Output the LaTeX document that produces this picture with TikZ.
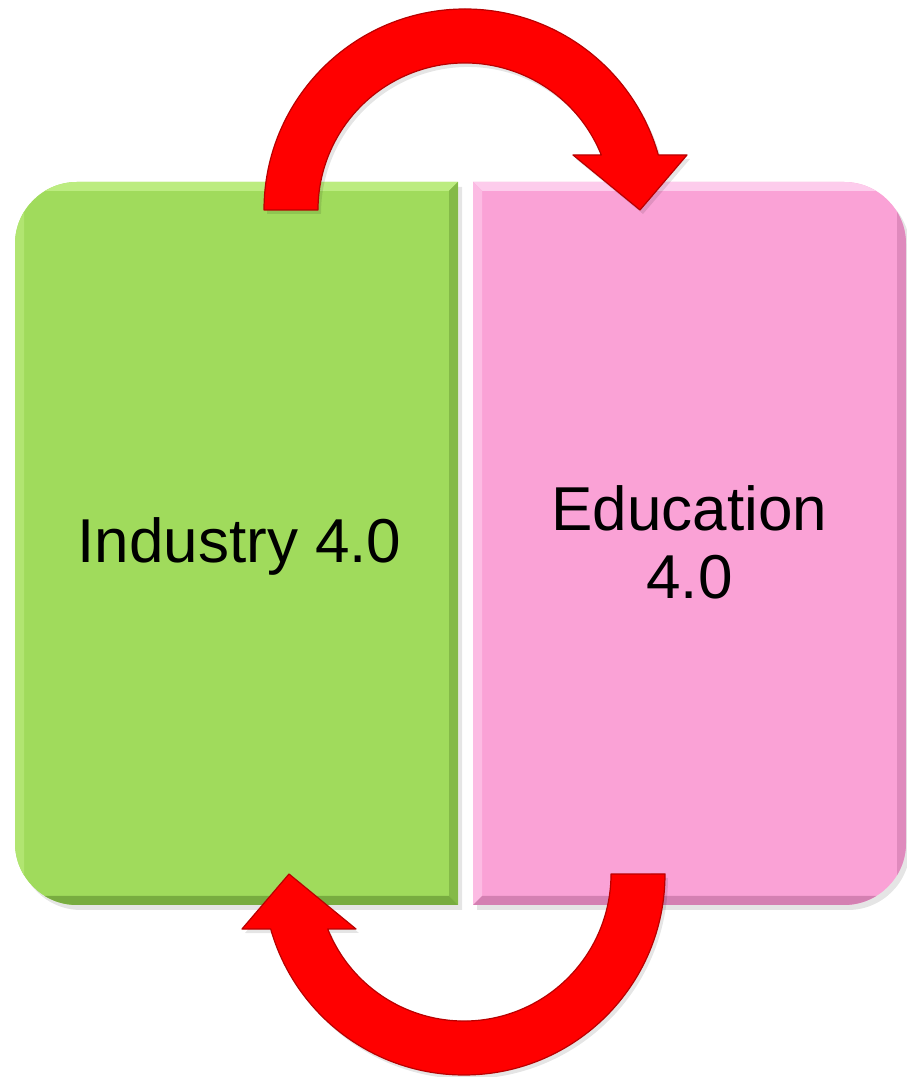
\documentclass[tikz,border=0pt]{standalone}
\usepackage{fontspec}
\setmainfont{Liberation Sans}
\definecolor{grn}{RGB}{160,219,92}
\definecolor{grnlt}{RGB}{188,236,128}
\definecolor{grndk}{RGB}{120,172,64}
\definecolor{pnk}{RGB}{250,162,214}
\definecolor{pnklt}{RGB}{253,204,236}
\definecolor{pnkdk}{RGB}{212,128,178}
\definecolor{arrred}{RGB}{255,0,0}
\definecolor{arredge}{RGB}{185,0,0}
\begin{document}
\begin{tikzpicture}[x=1pt,y=1pt,
  lbl/.style={font=\fontsize{62}{68}\selectfont, text=black, inner sep=0pt, align=center},
  arrowshape/.style={fill=arrred, draw=arredge, line width=1.2pt, line join=round},
  shadowfill/.style={fill=black, opacity=0.10},
  gboxpath/.style={insert path={(458,172) -- (77,172) arc[start angle=270,end angle=180,radius=62] -- (15,833) arc[start angle=180,end angle=90,radius=62] -- (458,895) -- cycle}},
  pboxpath/.style={insert path={(473,172) -- (473,895) -- (844,895) arc[start angle=90,end angle=0,radius=62] -- (906,234) arc[start angle=0,end angle=-90,radius=62] -- cycle}},
  arcarrowpath/.style={insert path={(264,867) arc[start angle=180,end angle=15.9,radius=201] -- (687,922) -- (640,867) -- (573,922) -- (601.3,922) arc[start angle=21.97,end angle=180,radius=147] -- cycle}}
]
\useasboundingbox (0,0) rectangle (907,1077);
\fill[white] (0,0) rectangle (907,1077);

% shadows of boxes
\begin{scope}[shift={(4,-5)}]
  \fill[shadowfill, gboxpath];
  \fill[shadowfill, pboxpath];
\end{scope}

% green box
\fill[grn, gboxpath];
\begin{scope}
  \clip[gboxpath];
  \fill[grnlt] (15,895) -- (458,895) -- (449,886) -- (24,886) -- cycle;
  \fill[grnlt!60!grn] (15,172) -- (15,895) -- (24,886) -- (24,181) -- cycle;
  \fill[grndk!70!grn] (458,895) -- (458,172) -- (449,181) -- (449,886) -- cycle;
  \fill[grndk] (15,172) -- (458,172) -- (449,181) -- (24,181) -- cycle;
\end{scope}

% pink box
\fill[pnk, pboxpath];
\begin{scope}
  \clip[pboxpath];
  \fill[pnklt] (473,895) -- (906,895) -- (897,886) -- (482,886) -- cycle;
  \fill[pnklt!60!pnk] (473,172) -- (473,895) -- (482,886) -- (482,181) -- cycle;
  \fill[pnkdk!70!pnk] (906,895) -- (906,172) -- (897,181) -- (897,886) -- cycle;
  \fill[pnkdk] (473,172) -- (906,172) -- (897,181) -- (482,181) -- cycle;
\end{scope}

% labels
\node[lbl, anchor=base] (ind) at (239.5,514) {Industry 4.0};
\node[lbl, anchor=center] (edu) at (689.5,535) {Education\\4.0};

% top arrow: Industry -> Education
\begin{scope}[shift={(3,-4)}]
  \fill[shadowfill, arcarrowpath];
\end{scope}
\path[arrowshape, arcarrowpath];

% bottom arrow: Education -> Industry
\begin{scope}[rotate around={180:(464.5,535)}]
  \begin{scope}[shift={(-3,4)}]
    \fill[shadowfill, arcarrowpath];
  \end{scope}
  \path[arrowshape, arcarrowpath];
\end{scope}
\end{tikzpicture}
\end{document}
